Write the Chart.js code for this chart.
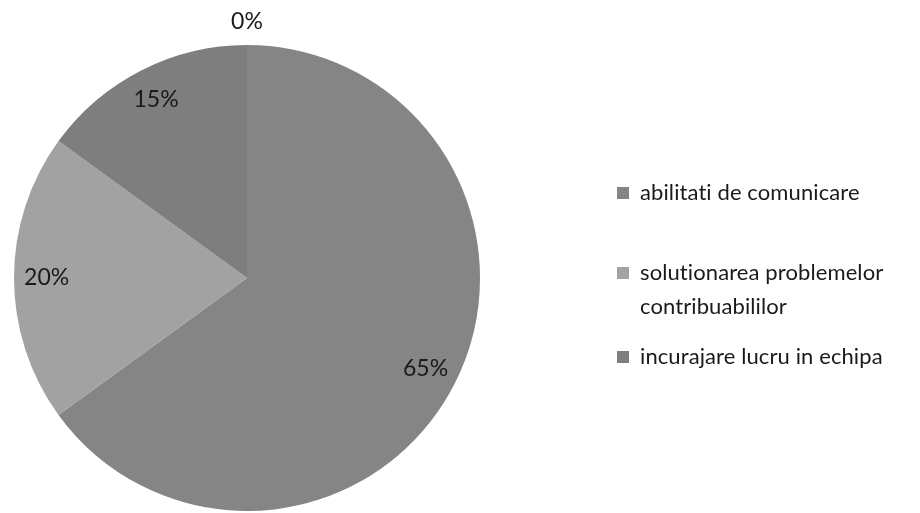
<!DOCTYPE html>
<html>
<head>
<meta charset="utf-8">
<script src="https://cdn.jsdelivr.net/npm/chart.js@4"></script>
<style>
  html, body { margin: 0; padding: 0; background: #fff; }
  #wrap { width: 920px; height: 513px; }
</style>
</head>
<body>
<div id="wrap"><canvas id="chart" width="920" height="513"></canvas></div>
<script>
const categories = [
  "abilitati de comunicare",
  "solutionarea problemelor contribuabililor",
  "incurajare lucru in echipa",
  ""
];
const values = [65, 20, 15, 0];
const colors = ["#858585", "#a2a2a2", "#7e7e7e", "#7e7e7e"];
// legend text broken like in the picture
const legendLines = [
  ["abilitati de comunicare"],
  ["solutionarea problemelor", "contribuabililor"],
  ["incurajare lucru in echipa"]
];

const FONT = "Lato, 'Open Sans', sans-serif";

// percent labels placed on the arcs
const pieLabels = {
  id: "pieLabels",
  afterDatasetsDraw(chart) {
    const ctx = chart.ctx;
    const meta = chart.getDatasetMeta(0);
    const total = values.reduce((a, b) => a + b, 0);
    ctx.save();
    ctx.font = "23px " + FONT;
    ctx.fillStyle = "#1a1a1a";
    ctx.textAlign = "center";
    ctx.textBaseline = "middle";
    meta.data.forEach((arc, i) => {
      const p = arc.getProps(["x", "y", "startAngle", "endAngle", "outerRadius"], true);
      const mid = (p.startAngle + p.endAngle) / 2;
      const f = values[i] === 0 ? 1.1 : 0.86;
      const x = p.x + Math.cos(mid) * p.outerRadius * f;
      const y = p.y + Math.sin(mid) * p.outerRadius * f;
      ctx.fillText(Math.round(values[i] / total * 100) + "%", x, y);
    });
    ctx.restore();
  }
};

const sideLegend = {
  id: "sideLegend",
  afterDraw(chart) {
    const ctx = chart.ctx;
    const rows = [193, 273, 357];
    ctx.save();
    ctx.font = "22px " + FONT;
    ctx.letterSpacing = "0.1px"; // keeps "ti" from turning into a ligature
    ctx.textBaseline = "middle";
    legendLines.forEach((lines, i) => {
      ctx.fillStyle = colors[i];
      ctx.fillRect(617, rows[i] - 6, 12, 12);
      ctx.fillStyle = "#1a1a1a";
      lines.forEach((t, j) => ctx.fillText(t, 640, rows[i] + j * 34));
    });
    ctx.restore();
  }
};

new Chart(document.getElementById("chart"), {
  type: "pie",
  data: {
    labels: categories,
    datasets: [{
      data: values,
      backgroundColor: colors,
      borderWidth: 0
    }]
  },
  options: {
    responsive: false,
    animation: false,
    layout: { padding: { top: 45, bottom: 2, left: 14, right: 440 } },
    plugins: {
      legend: { display: false },
      tooltip: { enabled: false }
    }
  },
  plugins: [pieLabels, sideLegend]
});
</script>
</body>
</html>
